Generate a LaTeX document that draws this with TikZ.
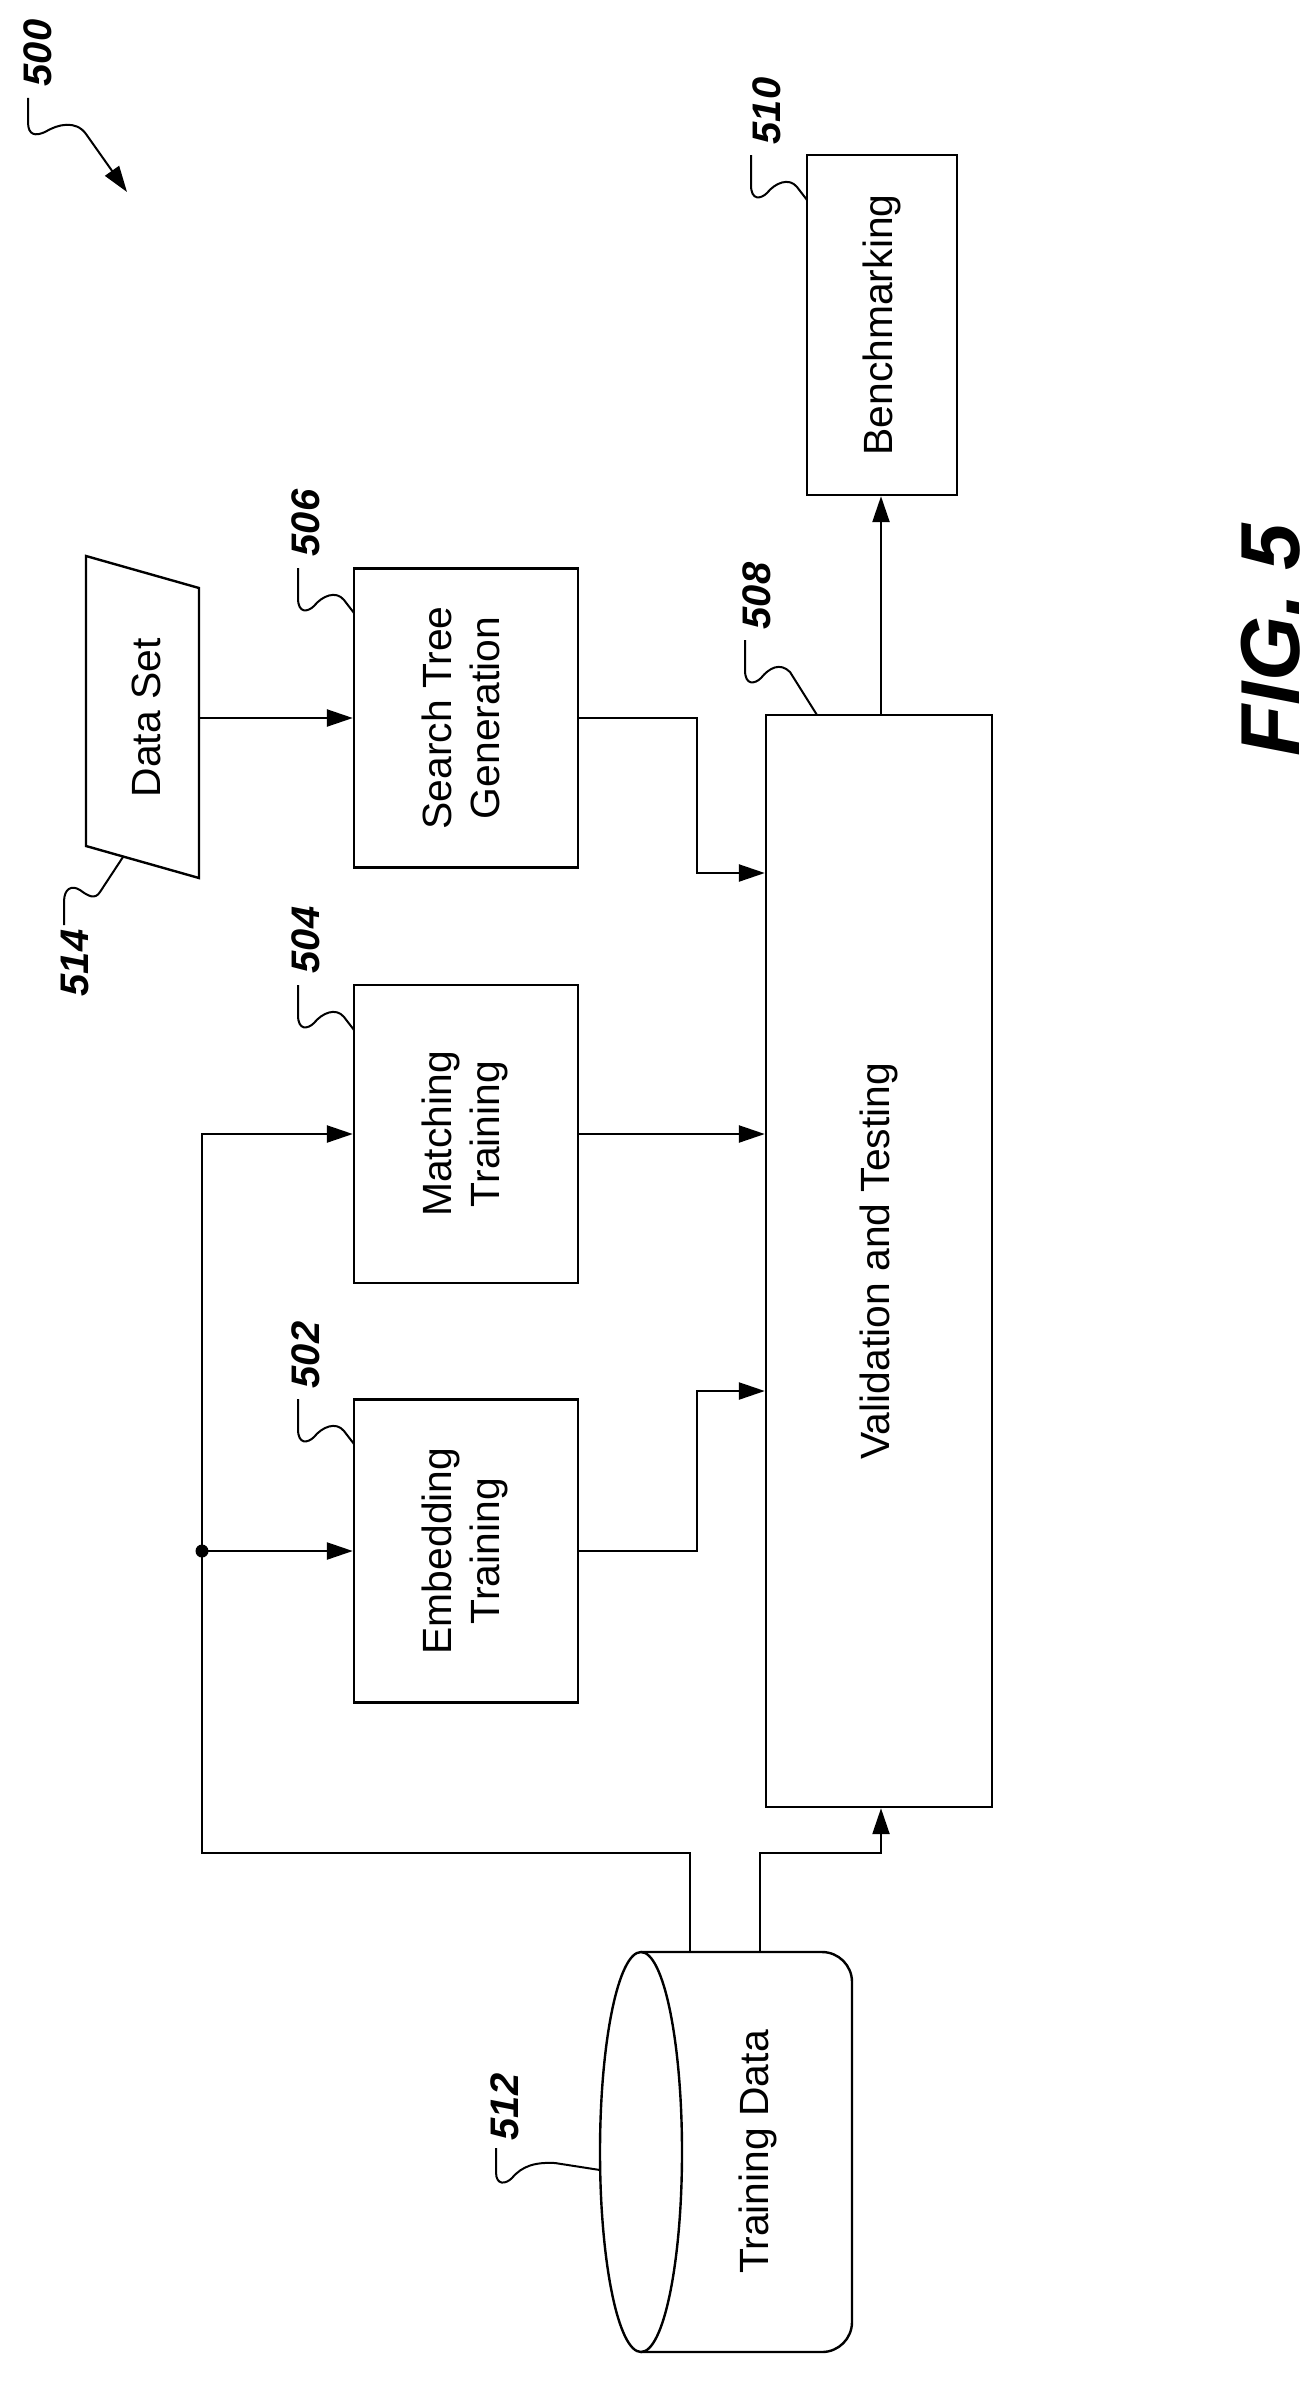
\documentclass[tikz,border=0pt]{standalone}
\usepackage{fontspec}
\setmainfont{Liberation Sans}
\usetikzlibrary{arrows.meta}
\begin{document}
\begin{tikzpicture}[x=1bp,y=-1bp,line width=2.4bp,
  box/.style={draw,minimum width=224bp,inner sep=0pt,font=\fontsize{41}{48}\selectfont},
  arr/.style={-{Triangle[length=26bp,width=17bp]}},
  lead/.style={line width=2bp},
  num/.style={font=\fontsize{40}{44}\selectfont\bfseries\itshape,rotate=90,inner sep=0pt}]
\useasboundingbox (0,0) rectangle (1314,2390);
\newcommand{\leadr}[3]{% xl yt name
  \draw[lead] (#1-56,#2) -- (#1-56,#2+30) .. controls (#1-56,#2+46) and (#1-46,#2+44) .. (#1-40,#2+38)
    .. controls (#1-32,#2+28) and (#1-18,#2+22) .. (#1-10,#2+32) -- (#3);}
% boxes
\node[box,minimum height=303bp] (b502) at (466,1551) {\rotatebox{90}{\begin{tabular}{@{}c@{}}Embedding\\Training\end{tabular}}};
\node[box,minimum height=298bp] (b504) at (466,1134) {\rotatebox{90}{\begin{tabular}{@{}c@{}}Matching\\Training\end{tabular}}};
\node[box,minimum height=299bp] (b506) at (466,718) {\rotatebox{90}{\begin{tabular}{@{}c@{}}Search Tree\\Generation\end{tabular}}};
\node[box,minimum width=226bp,minimum height=1092bp] (b508) at (879,1261) {\rotatebox{90}{Validation and Testing}};
\node[box,minimum width=150bp,minimum height=340bp] (b510) at (882,325) {\rotatebox{90}{Benchmarking}};
% data set
\coordinate (d1) at (86,556); \coordinate (d2) at (199,588); \coordinate (d3) at (199,878); \coordinate (d4) at (86,846);
\draw (d1) -- (d2) -- (d3) -- (d4) -- cycle;
\node[rotate=90,font=\fontsize{41}{48}\selectfont] (ds) at (146,718) {Data Set};
\coordinate (dsout) at (199,718);
% cylinder
\draw[rounded corners=30bp] (641,1952) -- (852,1952) -- (852,2352) -- (641,2352);
\draw (641,2152) ellipse [x radius=41, y radius=200];
\node[rotate=90,font=\fontsize{41}{48}\selectfont] (td) at (758,2152) {Training Data};
\coordinate (c1) at (690,1952); \coordinate (c2) at (760,1952);
% connectors
\coordinate (bus) at (202,1551);
\draw[arr] (c1) |- (202,1853) |- (b504.west);
\draw[arr] (bus) -- (b502.west);
\fill (bus) circle (6.5);
\draw[arr] (c2) |- (881,1853) -- (b508.south -| 881,0);
\draw[arr] (b502.east) -| (697,1391) -- (b508.west |- 0,1391);
\draw[arr] (b504.east) -- (b508.west |- b504.east);
\draw[arr] (b506.east) -| (697,873) -- (b508.west |- 0,873);
\draw[arr] (dsout) -- (b506.west);
\draw[arr] (b508.north -| 881,0) -- (b510.south -| 881,0);
% labels
\node[num] (l502) at (306,1355) {502};
\leadr{354}{1399}{354,1444}
\node[num] (l504) at (306,940) {504};
\leadr{354}{985}{354,1030}
\node[num] (l506) at (306,523) {506};
\leadr{354}{568}{354,613}
\node[num] (l510) at (767,111) {510};
\leadr{807}{155}{807,200}
\node[num] (l508) at (757,596) {508};
\draw[lead] (745,640) -- (745,670) .. controls (745,686) and (755,684) .. (761,678)
  .. controls (769,668) and (780,662) .. (790,672) -- (817,715);
\node[num] (l514) at (75,963) {514};
\draw[lead] (64,925) -- (64,902) .. controls (64,888) and (72,885) .. (80,890)
  .. controls (88,896) and (95,900) .. (100,892) -- (123,857);
\node[num] (l512) at (505,2107) {512};
\draw[lead] (496,2148) -- (496,2172) .. controls (496,2186) and (506,2184) .. (512,2178)
  .. controls (522,2166) and (535,2162) .. (555,2163) -- (600,2170);
\node[num] (l500) at (38,53) {500};
\coordinate (a500) at (127,192);
\draw[lead,-{Triangle[length=26bp,width=17bp]}] (28,98) -- (28,122) .. controls (28,136) and (36,136) .. (45,132)
  .. controls (58,124) and (76,120) .. (86,134) -- (a500);
\node[rotate=90,font=\fontsize{84}{90}\selectfont\bfseries\itshape] (fig) at (1271,640) {FIG. 5};
\end{tikzpicture}
\end{document}
